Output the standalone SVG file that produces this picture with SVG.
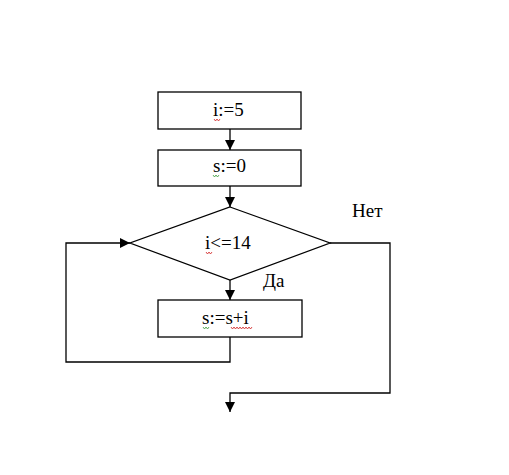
<svg xmlns="http://www.w3.org/2000/svg" width="509" height="475" viewBox="0 0 509 475">
<style>
.box{fill:#fff;stroke:#000;stroke-width:1.3}
.ln{fill:none;stroke:#000;stroke-width:1.3}
.t{font-family:'Liberation Serif',serif;font-size:19px;fill:#000}
.sqr{fill:none;stroke:#d02020;stroke-width:0.8}
.sqg{fill:none;stroke:#3a9a3a;stroke-width:0.8}
</style>
<defs>
<marker id="ah" viewBox="0 0 10 10" refX="10" refY="5" markerWidth="10" markerHeight="10" markerUnits="userSpaceOnUse" orient="auto">
<path d="M0,0 L10,5 L0,10 Z" fill="#000"/>
</marker>
</defs>
<rect width="509" height="475" fill="#fff"/>
<g id="connectors">
<line class="ln" x1="230" y1="129" x2="230" y2="150" marker-end="url(#ah)"/>
<line class="ln" x1="230" y1="186" x2="230" y2="207" marker-end="url(#ah)"/>
<line class="ln" x1="230" y1="280" x2="230" y2="300" marker-end="url(#ah)"/>
<polyline class="ln" points="230,337 230,362 66,362 66,243 130,243" marker-end="url(#ah)"/>
<polyline class="ln" points="330,243 390,243 390,393 230,393 230,412" marker-end="url(#ah)"/>
<text class="t" x="352" y="217">Нет</text>
<text class="t" x="263" y="287">Да</text>
</g>
<g id="n1">
<rect class="box" x="158" y="92" width="143" height="37"/>
<text class="t" x="213" y="116">i:=5</text>
<path class="sqr" d="M214,119 l1.5,2 l1.5,-2 l1.5,2 l1.5,-2"/>
</g>
<g id="n2">
<rect class="box" x="158" y="150" width="143" height="36"/>
<text class="t" x="213" y="172">s:=0</text>
<path class="sqg" d="M213,175 l1.5,2 l1.5,-2 l1.5,2 l1.5,-2"/>
</g>
<g id="n3">
<polygon class="box" points="230,207 330,243 230,280 130,243"/>
<text class="t" x="205" y="249">i&lt;=14</text>
<path class="sqr" d="M206,252 l1.5,2 l1.5,-2 l1.5,2 l1.5,-2"/>
</g>
<g id="n4">
<rect class="box" x="158" y="300" width="144" height="37"/>
<text class="t" x="202" y="324">s:=s+i</text>
<path class="sqg" d="M203,327 l1.5,2 l1.5,-2 l1.5,2 l1.5,-2"/>
<path class="sqr" d="M231,327 l1.5,2 l1.5,-2 l1.5,2 l1.5,-2 l1.5,2 l1.5,-2 l1.5,2 l1.5,-2 l1.5,2 l1.5,-2 l1.5,2 l1.5,-2 l1.5,2 l1.5,-2"/>
</g>
</svg>
